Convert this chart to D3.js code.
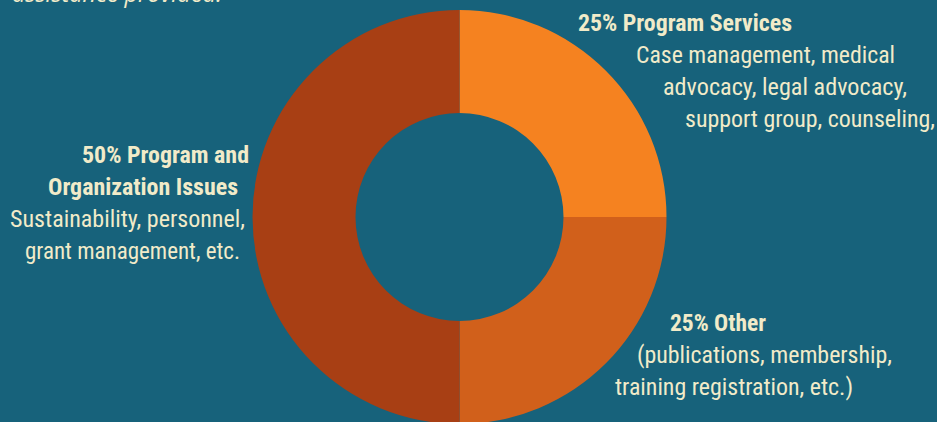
<!DOCTYPE html>
<html>
<head>
  <title>Funding Breakdown</title>
  <script src="https://d3js.org/d3.v7.min.js"></script>
  <style>
    body { margin: 0; background: #17627b; }
    .label { font-family: "Roboto Condensed", Roboto, sans-serif; font-size: 23px; fill: #f1ebc9; }
    .title { font-weight: bold; }
    .intro { font-family: "Open Sans", sans-serif; font-style: italic; font-size: 24px; fill: #f1ebc9; }
  </style>
</head>
<body>
<svg width="937" height="422"></svg>
<script>
  // Slice data (clockwise from 12 o'clock)
  const categories = ["Program Services", "Other", "Program and Organization Issues"];
  const values = [25, 25, 50];
  const colors = ["#f58220", "#d1601b", "#a83f14"];

  // Label text for each slice: bold title lines, then description lines
  const titleLines = [
    ["25% Program Services"],
    ["25% Other"],
    ["50% Program and", "Organization Issues"]
  ];
  const descLines = [
    ["Case management, medical", "advocacy, legal advocacy,", "support group, counseling,"],
    ["(publications, membership,", "training registration, etc.)"],
    ["Sustainability, personnel,", "grant management, etc."]
  ];

  const width = 937, height = 422;
  const cx = 459.5, cy = 217;
  const outerR = 207, innerR = 104;

  const svg = d3.select("svg")
    .attr("width", width)
    .attr("height", height);

  svg.append("rect")
    .attr("width", width)
    .attr("height", height)
    .attr("fill", "#17627b");

  // Tail of the paragraph above, cut off by the frame
  svg.append("text")
    .attr("class", "intro")
    .attr("x", 12)
    .attr("y", 1.5)
    .attr("textLength", 210)
    .attr("lengthAdjust", "spacingAndGlyphs")
    .text("assistance provided.");

  const pie = d3.pie().sort(null).value(d => d);
  const arc = d3.arc().innerRadius(innerR).outerRadius(outerR);

  svg.append("g")
    .attr("transform", `translate(${cx},${cy})`)
    .selectAll("path")
    .data(pie(values))
    .join("path")
      .attr("d", arc)
      .attr("fill", (d, i) => colors[i]);

  // Hand placed label blocks: x of each line, first baseline, anchor, line widths
  const layout = [
    { anchor: "start", y: 31, xs: [578, 636, 663, 685], w: [214, 259, 244, 250] },
    { anchor: "start", y: 331, xs: [670, 637, 615], w: [96, 255, 238] },
    { anchor: "end", y: 163, xs: [249, 238, 245, 240], w: [167, 190, 235, 215] }
  ];
  const lineGap = 32;

  categories.forEach((c, i) => {
    const lines = titleLines[i].map(t => ({ t, bold: true }))
      .concat(descLines[i].map(t => ({ t, bold: false })));
    const L = layout[i];
    svg.append("g")
      .selectAll("text")
      .data(lines)
      .join("text")
        .attr("class", d => d.bold ? "label title" : "label")
        .attr("text-anchor", L.anchor)
        .attr("x", (d, j) => L.xs[j])
        .attr("y", (d, j) => L.y + j * lineGap)
        .attr("textLength", (d, j) => L.w[j])
        .attr("lengthAdjust", "spacingAndGlyphs")
        .text(d => d.t);
  });
</script>
</body>
</html>
